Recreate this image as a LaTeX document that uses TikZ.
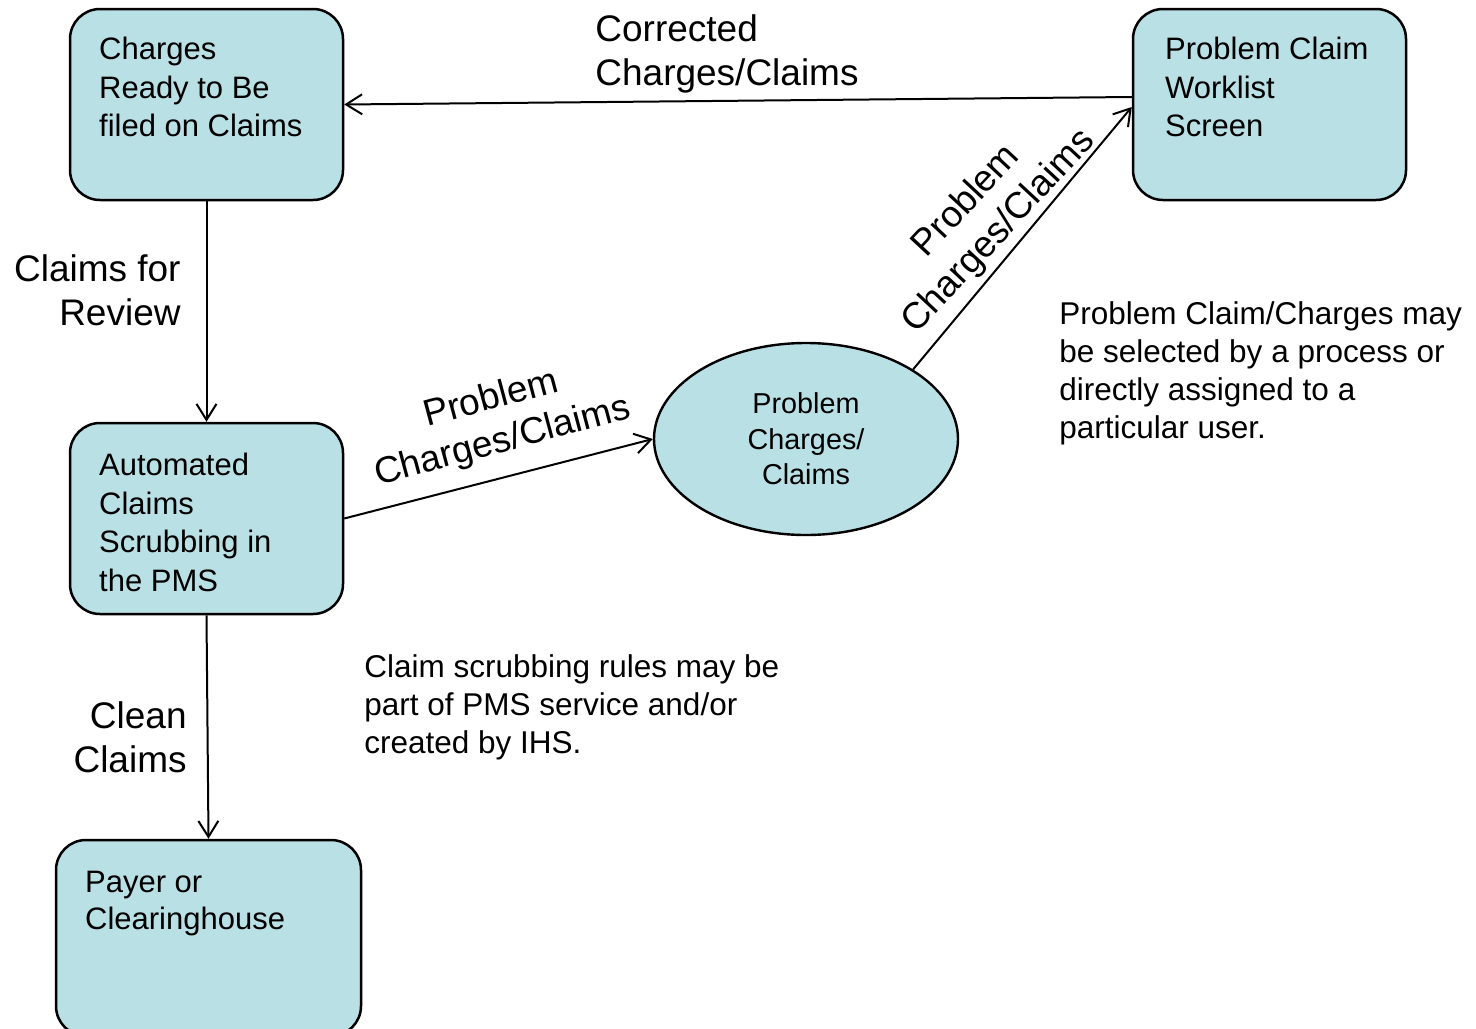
\documentclass[tikz,border=0pt]{standalone}
\usepackage{fontspec}
\setmainfont{Liberation Sans}
\usetikzlibrary{arrows.meta,shapes.geometric}
\definecolor{boxfill}{RGB}{185,224,228}
\begin{document}
\begin{tikzpicture}[x=0.5pt,y=-0.5pt,
  box/.style={draw=black, line width=1.25pt, fill=boxfill, rounded corners=15pt,
    rectangle, inner sep=0pt, minimum width=136.5pt, minimum height=95.5pt},
  oval/.style={draw=black, line width=1.2pt, fill=boxfill, ellipse, inner sep=0pt,
    minimum width=152pt, minimum height=96pt, align=center,
    font=\fontsize{14.4}{17.75}\selectfont},
  boxtext/.style={inner sep=0pt, anchor=north west, align=left,
    font=\fontsize{15.5}{19.25}\selectfont},
  flowlabel/.style={inner sep=0pt, font=\fontsize{18.5}{22}\selectfont},
  note/.style={inner sep=0pt, anchor=north west, align=left,
    font=\fontsize{15.75}{19}\selectfont},
  flow/.style={line width=1pt, -{Straight Barb[length=8pt,width=10pt,line width=1pt]}}]
\clip (0,0) rectangle (1476,1028);
\useasboundingbox (0,0) rectangle (1476,1028);

% process boxes
\node[box] (ready) at (206.5,104.5) {};
\node[box] (scrub) at (206.5,518.5) {};
\node[box, minimum width=152.5pt, minimum height=98pt] (payer) at (208.5,938) {};
\node[box] (work) at (1269.5,104.5) {};
\node[oval] (prob) at (806,439) {Problem\\Charges/\\Claims};

% box captions
\node[boxtext] (readyt) at ([xshift=15pt,yshift=-14.5pt]ready.north west)
  {Charges\\Ready to Be\\filed on Claims};
\node[boxtext] (scrubt) at ([xshift=15pt,yshift=-15.5pt]scrub.north west)
  {Automated\\Claims\\Scrubbing in\\the PMS};
\node[boxtext, font=\fontsize{15.5}{18.5}\selectfont] (payert) at ([xshift=15pt,yshift=-16pt]payer.north west)
  {Payer or\\Clearinghouse};
\node[boxtext] (workt) at ([xshift=16.5pt,yshift=-14.5pt]work.north west)
  {Problem Claim\\Worklist\\Screen};

% flows
\draw[flow] ([yshift=3.75pt]work.west) -- (ready.east);
\draw[flow] (ready.south) -- (scrub.north);
\draw[flow] (scrub.east) -- (prob.west);
\draw[flow] (prob.33) -- ([yshift=-1.25pt]work.west);
\draw[flow] (scrub.south) -- (payer.north);

% flow labels
\node[flowlabel, anchor=north west, align=left] (lcorr) at (595,14)
  {Corrected\\Charges/Claims};
\node[flowlabel, anchor=north east, align=right] (lrev) at (181,254)
  {Claims for\\Review};
\node[flowlabel, anchor=north east, align=right] (lclean) at (187,701)
  {Clean\\Claims};
\node[flowlabel, align=center, rotate=15] (lprob1) at (497,421)
  {Problem\\Charges/Claims};
\node[flowlabel, align=center, rotate=47] (lprob2) at (983,217)
  {Problem\\Charges/Claims};

% notes
\node[note] (nscrub) at (364,654)
  {Claim scrubbing rules may be\\part of PMS service and/or\\created by IHS.};
\node[note] (nsel) at (1059,301)
  {Problem Claim/Charges may\\be selected by a process or\\directly assigned to a\\particular user.};
\end{tikzpicture}
\end{document}
